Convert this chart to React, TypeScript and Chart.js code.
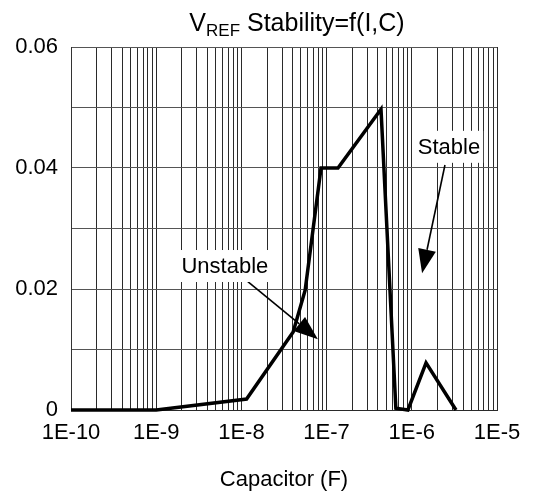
import React, { useEffect, useRef } from 'react';
import { Chart, registerables } from 'chart.js';

Chart.register(...registerables);

// ---- data ----
const capacitance = [1e-10, 1e-9, 1.15e-8, 4.05e-8, 5.6e-8, 8.6e-8, 1.36e-7, 4.35e-7, 6.5e-7, 9.0e-7, 1.47e-6, 3.3e-6];
const vrefDeviation = [0, 0, 0.0018, 0.0129, 0.0198, 0.04, 0.04, 0.0497, 0.0003, 0, 0.0078, 0];

const xDecades = [-10, -9, -8, -7, -6, -5];
const xMultipliers = [1, 2, 3, 4, 5, 6, 7, 8, 9];
const yTickValues = [0, 0.01, 0.02, 0.03, 0.04, 0.05, 0.06];
const yLabelledTicks = ['0', '0.02', '0.04', '0.06'];

const noteText = ['Unstable', 'Stable'];
const noteX = [6.4e-9, 2.73e-6];
const noteY = [0.0238, 0.0435];
const arrowFromX = [1.19e-8, 2.45e-6];
const arrowFromY = [0.0212, 0.0405];
const arrowToX = [7.9e-8, 1.32e-6];
const arrowToY = [0.0117, 0.0226];

const titleMain = 'V';
const titleSub = 'REF';
const titleRest = ' Stability=f(I,C)';
const xAxisTitle = 'Capacitor (F)';

const FONT = '"Liberation Sans", Arial, Helvetica, sans-serif';

const xTickValues: number[] = [];
xDecades.forEach((d, i) => {
  if (i === xDecades.length - 1) {
    xTickValues.push(Math.pow(10, d));
  } else {
    xMultipliers.forEach((m) => xTickValues.push(m * Math.pow(10, d)));
  }
});

export default function App() {
  const ref = useRef<HTMLCanvasElement>(null);

  useEffect(() => {
    const canvas = ref.current;
    if (!canvas) return;

    const overlay = {
      id: 'overlay',
      afterDraw(chart: any) {
        const ctx = chart.ctx as CanvasRenderingContext2D;
        const xs = chart.scales.x;
        const ys = chart.scales.y;
        const area = chart.chartArea;
        ctx.save();

        // arrows
        for (let i = 0; i < noteText.length; i++) {
          const x0 = xs.getPixelForValue(arrowFromX[i]);
          const y0 = ys.getPixelForValue(arrowFromY[i]);
          const x1 = xs.getPixelForValue(arrowToX[i]);
          const y1 = ys.getPixelForValue(arrowToY[i]);
          const dx = x1 - x0;
          const dy = y1 - y0;
          const len = Math.hypot(dx, dy);
          const ux = dx / len;
          const uy = dy / len;
          const headLen = 24;
          const headHalf = 9;
          const bx = x1 - ux * headLen;
          const by = y1 - uy * headLen;
          ctx.strokeStyle = '#000';
          ctx.lineWidth = 1.6;
          ctx.beginPath();
          ctx.moveTo(x0, y0);
          ctx.lineTo(bx, by);
          ctx.stroke();
          ctx.fillStyle = '#000';
          ctx.beginPath();
          ctx.moveTo(x1, y1);
          ctx.lineTo(bx - uy * headHalf, by + ux * headHalf);
          ctx.lineTo(bx + uy * headHalf, by - ux * headHalf);
          ctx.closePath();
          ctx.fill();
        }

        // note labels
        ctx.font = `22px ${FONT}`;
        ctx.textAlign = 'center';
        ctx.textBaseline = 'middle';
        for (let i = 0; i < noteText.length; i++) {
          const cx = xs.getPixelForValue(noteX[i]);
          const cy = ys.getPixelForValue(noteY[i]);
          const w = ctx.measureText(noteText[i]).width;
          ctx.fillStyle = '#fff';
          ctx.fillRect(cx - w / 2 - 3, cy - 16, w + 6, 32);
          ctx.fillStyle = '#000';
          ctx.fillText(noteText[i], cx, cy + 1);
        }

        // title with subscript
        const mainFont = `25px ${FONT}`;
        const subFont = `17px ${FONT}`;
        ctx.textAlign = 'left';
        ctx.textBaseline = 'alphabetic';
        ctx.font = mainFont;
        const wMain = ctx.measureText(titleMain).width;
        const wRest = ctx.measureText(titleRest).width;
        ctx.font = subFont;
        const wSub = ctx.measureText(titleSub).width;
        const total = wMain + wSub + wRest;
        const center = (area.left + area.right) / 2 + 13;
        let tx = center - total / 2;
        const baseY = 31;
        ctx.fillStyle = '#000';
        ctx.font = mainFont;
        ctx.fillText(titleMain, tx, baseY);
        tx += wMain;
        ctx.font = subFont;
        ctx.fillText(titleSub, tx, baseY + 4.5);
        tx += wSub;
        ctx.font = mainFont;
        ctx.fillText(titleRest, tx, baseY);

        ctx.restore();
      },
    };

    const chart = new Chart(canvas, {
      type: 'line',
      data: {
        datasets: [
          {
            data: capacitance.map((c, i) => ({ x: c, y: vrefDeviation[i] })),
            borderColor: '#000',
            borderWidth: 3.5,
            pointRadius: 0,
            tension: 0,
            fill: false,
            clip: false as any,
            borderJoinStyle: 'miter',
          } as any,
        ],
      },
      options: {
        animation: false,
        responsive: false,
        maintainAspectRatio: false,
        layout: { padding: { left: 0, right: 42, top: 47, bottom: 0 } },
        plugins: {
          legend: { display: false },
          tooltip: { enabled: false },
          title: { display: false },
        },
        scales: {
          x: {
            type: 'logarithmic',
            min: 1e-10,
            max: 1e-5,
            afterBuildTicks: (scale: any) => {
              scale.ticks = xTickValues.map((v) => ({ value: v }));
            },
            afterFit: (scale: any) => {
              scale.height = 88;
            },
            grid: { color: '#2a2a2a', lineWidth: 1, drawTicks: false },
            border: { display: true, color: '#2a2a2a', width: 1 },
            ticks: {
              autoSkip: false,
              maxRotation: 0,
              minRotation: 0,
              padding: 10,
              color: '#000',
              font: { family: FONT, size: 22 },
              callback: (value: any) => {
                const v = Number(value);
                const e = Math.log10(v);
                const r = Math.round(e);
                if (Math.abs(e - r) < 1e-6 && xDecades.indexOf(r) >= 0) return '1E' + r;
                return '';
              },
            },
            title: {
              display: true,
              text: xAxisTitle,
              color: '#000',
              font: { family: FONT, size: 22 },
              padding: { top: 0, bottom: 5 },
            },
          },
          y: {
            type: 'linear',
            min: 0,
            max: 0.06,
            afterBuildTicks: (scale: any) => {
              scale.ticks = yTickValues.map((v) => ({ value: v }));
            },
            afterFit: (scale: any) => {
              scale.width = 71;
            },
            grid: { color: '#555', lineWidth: 1, drawTicks: false },
            border: { display: true, color: '#333', width: 1 },
            ticks: {
              padding: 13,
              color: '#000',
              font: { family: FONT, size: 22 },
              callback: (value: any) => {
                const c = Math.round(Number(value) * 100);
                const label = c === 0 ? '0' : (c / 100).toFixed(2);
                return yLabelledTicks.indexOf(label) >= 0 ? label : '';
              },
            },
          },
        },
      },
      plugins: [overlay],
    } as any);

    return () => chart.destroy();
  }, []);

  return (
    <div style={{ position: 'absolute', left: 0, top: 0, width: 539, height: 498, background: '#fff' }}>
      <canvas ref={ref} width={539} height={498} style={{ display: 'block', width: 539, height: 498 }} />
    </div>
  );
}
